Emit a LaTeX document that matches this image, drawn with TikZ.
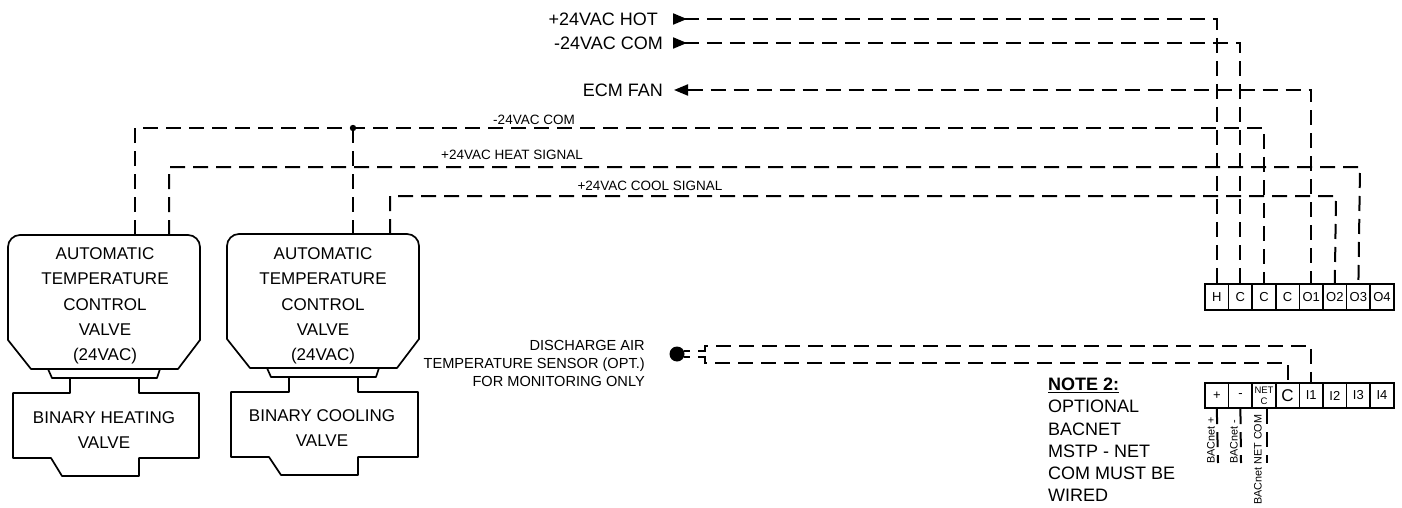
\documentclass[tikz,border=0pt]{standalone}
\usepackage{fontspec}
\setmainfont{Liberation Sans}
\usetikzlibrary{arrows.meta}
\tikzset{
wire/.style={line width=2pt,dash pattern=on 15pt off 8pt},
stub/.style={wire,dash phase=9pt},
outline/.style={line width=1.7pt,line join=round},
term/.style={draw,line width=1.7pt,minimum width=23.6pt,minimum height=25.5pt,inner sep=0pt,font=\fontsize{13}{13}\selectfont},
vlabel/.style={align=center,inner sep=0pt,font=\fontsize{17}{25.2}\selectfont},
toplabel/.style={anchor=east,inner sep=0pt,font=\fontsize{18}{18}\selectfont},
sig/.style={inner sep=0pt,font=\fontsize{13.5}{13.5}\selectfont},
side/.style={rotate=90,anchor=west,inner sep=0pt,font=\fontsize{10.8}{10.8}\selectfont},
head/.tip={Triangle[length=14pt,width=11pt]},
headr/.tip={Triangle[reversed,length=14pt,width=11pt]}
}
\begin{document}
\begin{tikzpicture}[x=1pt,y=-1pt]
\useasboundingbox (0,0) rectangle (1402,508);
% valves
\draw[outline] (8,340) -- (8,247) .. controls (8,240.4) and (13.4,235) .. (20,235) -- (188,235) .. controls (194.6,235) and (200,240.4) .. (200,247) -- (200,340) -- (178,369) -- (31,369) -- cycle;
\draw[outline] (48,369) -- (52,378) -- (157,378) -- (160,369);
\draw[outline] (70,378) -- (70,393) -- (13,393) -- (13,458) -- (51,458) -- (62,476) -- (139,476) -- (139,458) -- (199,458) -- (199,393) -- (139,393) -- (139,378);
\draw[outline] (227,339) -- (227,246) .. controls (227,239.4) and (232.4,234) .. (239,234) -- (407,234) .. controls (413.6,234) and (419,239.4) .. (419,246) -- (419,339) -- (397,368) -- (250,368) -- cycle;
\draw[outline] (267,368) -- (271,377) -- (376,377) -- (379,368);
\draw[outline] (289,377) -- (289,392) -- (231,392) -- (231,457) -- (269,457) -- (281,475) -- (358,475) -- (358,457) -- (418,457) -- (418,392) -- (358,392) -- (358,377);
\node[vlabel] (atc1) at (105,306) {AUTOMATIC\\TEMPERATURE\\CONTROL\\VALVE\\(24VAC)};
\node[vlabel] (atc2) at (323,306) {AUTOMATIC\\TEMPERATURE\\CONTROL\\VALVE\\(24VAC)};
\node[vlabel] (bin1) at (104,430) {BINARY HEATING\\VALVE};
\node[vlabel] (bin2) at (322,428) {BINARY COOLING\\VALVE};
% terminals
\foreach \n/\t [count=\i] in {tH/H,tCa/C,tCb/C,tCc/C,tOa/O1,tOb/O2,tOc/O3,tOd/O4}
  \node[term] (\n) at ({1205+23.6*(\i-0.5)},297) {\t};
\foreach \n/\t [count=\i] in {bP/+,bM/-,bN/{},bC/{},bIa/I1,bIb/I2,bIc/I3,bId/I4}
  \node[term] (\n) at ({1205+23.6*(\i-0.5)},395.5) {\t};
\node[inner sep=0pt,align=center,font=\fontsize{9.5}{11}\selectfont] (netc) at (bN) {NET\\C};
\node[inner sep=0pt,font=\fontsize{17}{17}\selectfont] (cbig) at (bC) {C};
% supply labels
\node[toplabel] (hot) at (658,19) {+24VAC HOT};
\node[toplabel] (com) at (663,43) {-24VAC COM};
\node[toplabel] (fan) at (663,90) {ECM FAN};
\coordinate (hotA) at (673,19);
\coordinate (comA) at (673,43);
\coordinate (fanA) at (674,90);
\draw[wire,{headr}-] (hotA) -| (tH.north);
\draw[wire,{headr}-] (comA) -| (tCa.north);
\draw[wire,{head}-] (fanA) -| (tOa.north);
% valve wiring
\coordinate (v1c) at (135,235);
\coordinate (v1h) at (169,235);
\coordinate (v2c) at (353,234);
\coordinate (v2k) at (390,234);
\coordinate (jct) at (353,128);
\coordinate (heatR) at (1360,167);
\coordinate (coolR) at (1336,196);
\draw[wire] (v1c) |- (jct) -| (tCb.north);
\draw[wire] (jct) -- (v2c);
\fill (jct) circle (3.2pt);
\draw[wire] (v1h) |- (heatR) -- (tOc.north);
\draw[wire] (v2k) |- (coolR) -- (tOb.north);
\node[sig] (lcom) at (534,120) {-24VAC COM};
\node[sig] (lheat) at (512,155) {+24VAC HEAT SIGNAL};
\node[sig] (lcool) at (650,186) {+24VAC COOL SIGNAL};
% sensor
\node[circle,fill,inner sep=0pt,minimum size=15pt] (sensor) at (677,354) {};
\coordinate (senU) at (684,351);
\coordinate (senL) at (684,357);
\coordinate (senUa) at (705,351);
\coordinate (senUb) at (705,346);
\coordinate (senLa) at (705,357);
\coordinate (senLb) at (705,363);
\draw[stub] (senU) -- (senUa) -- (senUb) -| (bIa.north);
\draw[stub] (senL) -- (senLa) -- (senLb) -| (bC.north);
\node[inner sep=0pt,align=right,anchor=east,font=\fontsize{14.6}{18}\selectfont] (dat) at (645,363) {DISCHARGE AIR\\TEMPERATURE SENSOR (OPT.)\\FOR MONITORING ONLY};
% note
\node[inner sep=0pt,anchor=north west,align=left,font=\fontsize{18}{22.2}\selectfont] (note) at (1048,378) {\underline{\textbf{NOTE 2:}}\\OPTIONAL\\BACNET\\MSTP - NET\\COM MUST BE\\WIRED};
% BACnet leads
\coordinate (leadP) at (1218,463);
\coordinate (leadM) at (1241,463);
\coordinate (leadN) at (1267,463);
\draw[wire] (bP.south) -- (leadP);
\draw[wire] (bM.south) -- (leadM);
\draw[wire] (bN.south -| leadN) -- (leadN);
\node[side] (sP) at (1211,464) {BACnet +};
\node[side] (sM) at (1234,464) {BACnet -};
\node[side] (sN) at (1258,505) {BACnet NET COM};
\end{tikzpicture}
\end{document}
